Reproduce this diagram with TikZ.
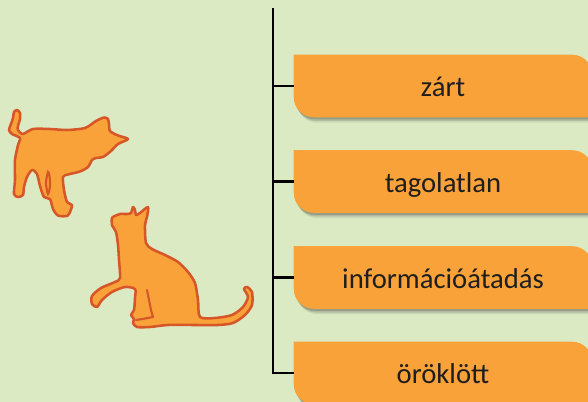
\documentclass[tikz,border=0pt]{standalone}
\usepackage{fontspec}
\setmainfont{Carlito}
\usetikzlibrary{calc,backgrounds}
\definecolor{bgc}{RGB}{220,234,196}
\definecolor{boxc}{RGB}{249,162,58}
\definecolor{txtc}{RGB}{30,30,30}
\definecolor{catfill}{RGB}{249,162,58}
\definecolor{catline}{RGB}{214,86,40}
\newcommand{\tabpath}[1]{(#1.north west) -- ($(#1.north east)+(-20,0)$) .. controls ($(#1.north east)+(-9,0)$) and ($(#1.north east)+(0,9)$) .. ($(#1.north east)+(0,20)$) -- (#1.south east) -- ($(#1.south west)+(20,0)$) .. controls ($(#1.south west)+(9,0)$) and ($(#1.south west)+(0,-9)$) .. ($(#1.south west)+(0,-20)$) -- cycle}
\tikzset{
  tab/.style={rectangle, minimum width=223.5pt, minimum height=46.5pt, inner sep=0pt,
    text height=15.8pt, text depth=0pt, text=txtc, font=\fontsize{21.5}{26}\selectfont},
  branch/.style={line width=1.9pt, black},
  cat/.style={fill=catfill, draw=catline, line width=1.9pt, line join=round},
  catdetail/.style={draw=catline, line width=1.6pt, line cap=round},
}
\begin{document}
\begin{tikzpicture}[x=0.75pt, y=-0.75pt]
\useasboundingbox (0,0) rectangle (588,402);
\node[tab] (b1) at (443,86) {zárt};
\node[tab] (b2) at (443,181.5) {tagolatlan};
\node[tab] (b3) at (443,277.5) {információátadás};
\node[tab] (b4) at (443,373) {öröklött};
\coordinate (trunk) at (273,8);
\begin{scope}[on background layer]
  \fill[bgc] (0,0) rectangle (588,402);
  \foreach \b in {b1,b2,b3,b4}{
    \fill[black, opacity=0.08, transform canvas={shift={(2.5pt,-4pt)}}] \tabpath{\b};
    \fill[black, opacity=0.12, transform canvas={shift={(1.8pt,-2.8pt)}}] \tabpath{\b};
    \fill[black, opacity=0.15, transform canvas={shift={(1pt,-1.6pt)}}] \tabpath{\b};
    \fill[boxc] \tabpath{\b};
  }
\end{scope}
\draw[branch] (trunk) |- (b4.west);
\draw[branch] (b1.west -| trunk) -- (b1.west);
\draw[branch] (b2.west -| trunk) -- (b2.west);
\draw[branch] (b3.west -| trunk) -- (b3.west);
% cat 1 (standing)
\draw[cat] plot[smooth cycle, tension=0.45] coordinates {
 (17,110) (20,113) (20,119) (18,126) (18,130) (23,134) (33,129) (50,129) (67,130) (85,128)
 (96,121) (104,117.5) (108,119) (109,124) (110,131) (118,135.5) (128,139) (118,144) (111,151)
 (103,157) (96,158) (92,160) (88,167) (80,171.5) (68,174.5) (63,177) (64,190) (67,202) (72,205)
 (70,212) (67,216) (58,215.5) (53,209) (50,199) (44,197) (40,186) (37,174) (32,170) (27,177)
 (24,187) (23,195) (18,197) (14,194) (15,180) (15,160) (18,145) (20,138) (12,134) (9,130)
 (11,124) (13,118) (14,112)};
\draw[catdetail] plot[smooth cycle, tension=0.5] coordinates {(48,172) (46,183) (48,194) (50,186) (49.5,176)};
% cat 2 (sitting)
\draw[cat] plot[smooth cycle, tension=0.45] coordinates {
 (112,218) (115,216) (120,214) (127,214) (131,213) (133,207) (135,210) (136,215) (140,213)
 (148,207) (147,217) (145,225) (146,243) (152,249) (165,255) (178,262) (188,272) (195,283)
 (198,300) (200,317) (215,318) (232,315) (243,307) (248,297) (244,289) (247,287) (252,292)
 (252,305) (245,315) (233,323) (218,325) (195,325) (168,325) (150,327) (137,327) (133,323)
 (134,319) (131,315) (134,310) (135,298) (135,289) (125,287) (112,292) (102,300) (97,307)
 (92,304) (92,296) (101,288) (115,282) (120,278) (119,260) (118,245) (116,232) (112,225)};
\draw[catdetail] plot[smooth, tension=0.5] coordinates {(147,290) (149,300) (151,310) (153,317)};
\draw[catdetail] plot[smooth, tension=0.5] coordinates {(136,320) (145,318.5) (153,317)};
\end{tikzpicture}
\end{document}
